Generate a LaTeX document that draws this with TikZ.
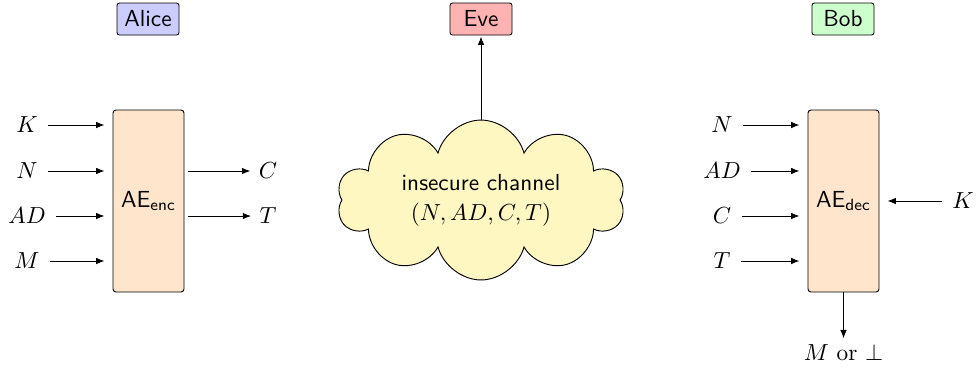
\documentclass[tikz,border=0pt]{standalone}
\usetikzlibrary{shapes.symbols,arrows.meta}
\definecolor{channelfill}{HTML}{FFF7C2}
\newdimen\pxu
\pxu=0.43pt
\begin{document}
\begin{tikzpicture}[x=0.43pt,y=-0.43pt,
  party/.style={draw, rounded corners=2.5\pxu, font=\sffamily,
    minimum width=62\pxu, minimum height=32\pxu, inner sep=0pt},
  aebox/.style={draw, fill=orange!20, rounded corners=3\pxu,
    minimum width=71\pxu, minimum height=182\pxu, inner sep=0pt, font=\sffamily},
  lbl/.style={inner sep=0pt},
  flow/.style={-{Latex[length=3.6pt,width=2.8pt]}}
]
\useasboundingbox (0,0) rectangle (977,368);

% parties
\node[party, fill=blue!20]  (alice) at (148,19) {Alice};
\node[party, fill=red!30]   (eve)   at (481,19) {Eve};
\node[party, fill=green!20] (bob)   at (843,19) {Bob};

% encryption side
\node[aebox] (enc) at (148.5,201) {AE$_{\mathsf{enc}}$};
\node[lbl] (ek)  at (27,125) {$K$};
\node[lbl] (en)  at (27,171) {$N$};
\node[lbl] (ead) at (27,216) {$AD$};
\node[lbl] (em)  at (27,261) {$M$};
\foreach \s in {ek,en,ead,em}
  \draw[flow, shorten <=10\pxu, shorten >=8\pxu] (\s.east) -- (enc.west |- \s);
\node[lbl] (ec) at (268,171) {$C$};
\node[lbl] (et) at (268,216) {$T$};
\foreach \s in {ec,et}
  \draw[flow, shorten <=4\pxu, shorten >=8\pxu] (enc.east |- \s) -- (\s.west);

% channel
\node[cloud, cloud puffs=10, aspect=2, draw, fill=channelfill,
  minimum width=288\pxu, minimum height=146\pxu, align=center, inner sep=0pt]
  (ch) at (481,200) {\textsf{insecure channel}\\[1pt]$(N,AD,C,T)$};
\draw[flow, shorten >=1\pxu] (ch.north) -- (eve.south);

% decryption side
\node[aebox] (dec) at (843.5,201) {AE$_{\mathsf{dec}}$};
\node[lbl] (dn)  at (722,125) {$N$};
\node[lbl] (dad) at (722,171) {$AD$};
\node[lbl] (dc)  at (722,216) {$C$};
\node[lbl] (dt)  at (722,261) {$T$};
\foreach \s in {dn,dad,dc,dt}
  \draw[flow, shorten <=10\pxu, shorten >=8\pxu] (\s.east) -- (dec.west |- \s);
\node[lbl] (dk) at (963,201) {$K$};
\draw[flow, shorten <=10\pxu, shorten >=8\pxu] (dk.west) -- (dec.east |- dk);
\node[lbl] (out) at (843.5,353) {$M$ or $\bot$};
\draw[flow, shorten >=6\pxu] (dec.south) -- (out.north);
\end{tikzpicture}
\end{document}
